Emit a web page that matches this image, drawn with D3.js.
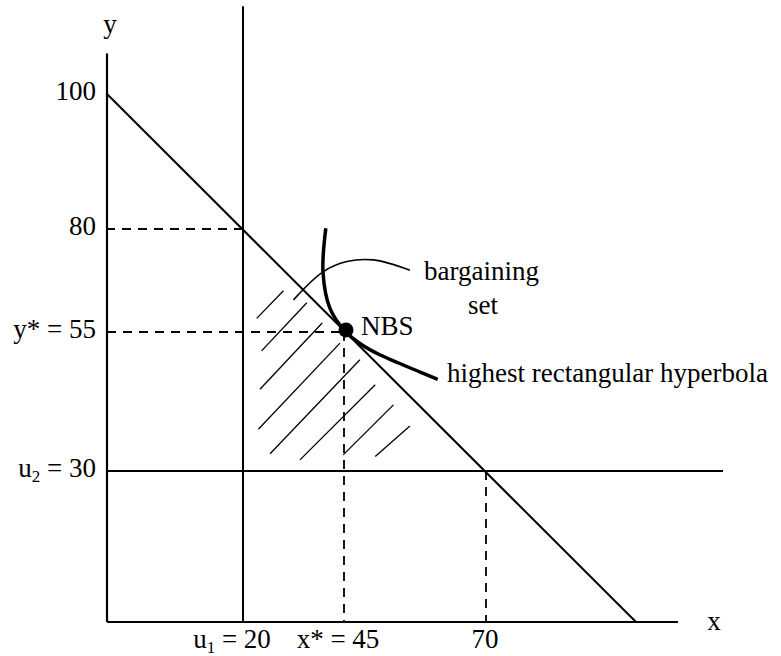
<!DOCTYPE html>
<html>
<head>
<meta charset="utf-8">
<script src="https://cdn.jsdelivr.net/npm/d3@7"></script>
<style>
  body { margin: 0; background: #fff; }
  svg text { font-family: "Liberation Serif", "Times New Roman", serif; font-size: 27px; fill: #000; }
</style>
</head>
<body>
<div id="chart"></div>
<script>
// values (schematic diagram, axis ticks are not evenly spaced)
var xTickValues = [20, 45, 70];
var xTickLabels = ["u_1 = 20", "x* = 45", "70"];
var yTickValues = [100, 80, 55, 30];
var yTickLabels = ["100", "80", "y* = 55", "u_2 = 30"];

var threat = [20, 30];          // u1, u2
var nbs = [45, 55];             // x*, y*
var budget = [[0, 100], [100, 0]];

// hatch strokes inside the bargaining set
var hatches = [
    [[23.4, 58.3], [30.0, 65.0]],
    [[24.6, 51.6], [35.8, 62.1]],
    [[24.2, 44.7], [39.6, 57.2]],
    [[23.8, 37.5], [44.0, 53.0]],
    [[26.7, 33.1], [47.8, 50.0]],
    [[34.1, 32.0], [50.5, 45.5]],
    [[44.8, 32.9], [53.7, 41.9]],
    [[50.5, 32.6], [56.6, 38.1]]
];

// highest rectangular hyperbola, as drawn
var hyperbola = [[40.5, 80.1], [39.8, 69.6], [41.5, 60.8], [45.2, 55.2], [48.0, 52.8], [51.3, 50.9], [58.4, 47.8], [61.5, 46.5]];

// pointer from "bargaining set" label
var pointer = [[32.5, 62.8], [39.8, 69.6], [45.5, 72.1], [50.2, 72.5], [56.6, 70.0]];

var w = 781, h = 656;
var svg = d3.select("#chart").append("svg").attr("width", w).attr("height", h);

var x = d3.scaleLinear().domain([0, 20, 45, 70, 100]).range([107, 243, 344, 486, 636]);
var y = d3.scaleLinear().domain([0, 30, 55, 80, 100]).range([622, 471, 332, 229, 94]);

var line = d3.line().x(function (d) { return x(d[0]); }).y(function (d) { return y(d[1]); });

function seg(p, q, width, dash) {
    var l = svg.append("path")
        .attr("d", line([p, q]))
        .attr("fill", "none")
        .attr("stroke", "#000")
        .attr("stroke-width", width);
    if (dash) l.attr("stroke-dasharray", dash);
    return l;
}

// axes
seg([0, 0], [108.4, 0], 2.2);
seg([0, 0], [0, 106], 2.2);

// threat point lines
seg([threat[0], 0], [threat[0], 113], 2);
seg([0, threat[1]], [117.4, threat[1]], 2);

// budget line
seg(budget[0], budget[1], 2);

// dashed guides
seg([threat[0], 80], [0, 80], 1.8, "9,7");
seg([0, nbs[1]], [nbs[0], nbs[1]], 1.8, "9,7");
seg([nbs[0], nbs[1]], [nbs[0], 0], 1.8, "9,7");
seg([70, 30], [70, 0], 1.8, "9,7");

// hatching
hatches.forEach(function (hh) { seg(hh[0], hh[1], 1.3); });

// pointer curve
svg.append("path")
    .attr("d", line.curve(d3.curveCatmullRom)(pointer))
    .attr("fill", "none").attr("stroke", "#000").attr("stroke-width", 1.6);

// hyperbola
svg.append("path")
    .attr("d", line.curve(d3.curveCatmullRom)(hyperbola))
    .attr("fill", "none").attr("stroke", "#000").attr("stroke-width", 3.5);

// NBS point
svg.append("circle")
    .attr("cx", x(nbs[0]) + 2).attr("cy", y(nbs[1]) - 2)
    .attr("r", 7.5).attr("fill", "#000");

function label(sel, s) {
    var parts = s.split("_");
    sel.append("tspan").text(parts[0]);
    if (parts.length > 1) {
        sel.append("tspan").attr("font-size", "17px").attr("dy", 5).text(parts[1].charAt(0));
        sel.append("tspan").attr("dy", -5).text(parts[1].slice(1));
    }
}

// y tick labels
yTickValues.forEach(function (v, i) {
    var t = svg.append("text")
        .attr("x", 96).attr("y", y(v) + 6)
        .attr("text-anchor", "end");
    label(t, yTickLabels[i]);
});

// x tick labels
var xShift = [-11, -6, -1];
xTickValues.forEach(function (v, i) {
    var t = svg.append("text")
        .attr("x", x(v) + xShift[i]).attr("y", 648)
        .attr("text-anchor", "middle");
    label(t, xTickLabels[i]);
});

// axis names
svg.append("text").attr("x", 714).attr("y", 630).attr("text-anchor", "middle").text("x");
svg.append("text").attr("x", 110).attr("y", 33).attr("text-anchor", "middle").text("y");

// annotations
svg.append("text").attr("x", 424).attr("y", 280).text("bargaining");
svg.append("text").attr("x", 468).attr("y", 314).text("set");
svg.append("text").attr("x", 361).attr("y", 335).text("NBS");
svg.append("text").attr("x", 447).attr("y", 382).text("highest rectangular hyperbola");
</script>
</body>
</html>
